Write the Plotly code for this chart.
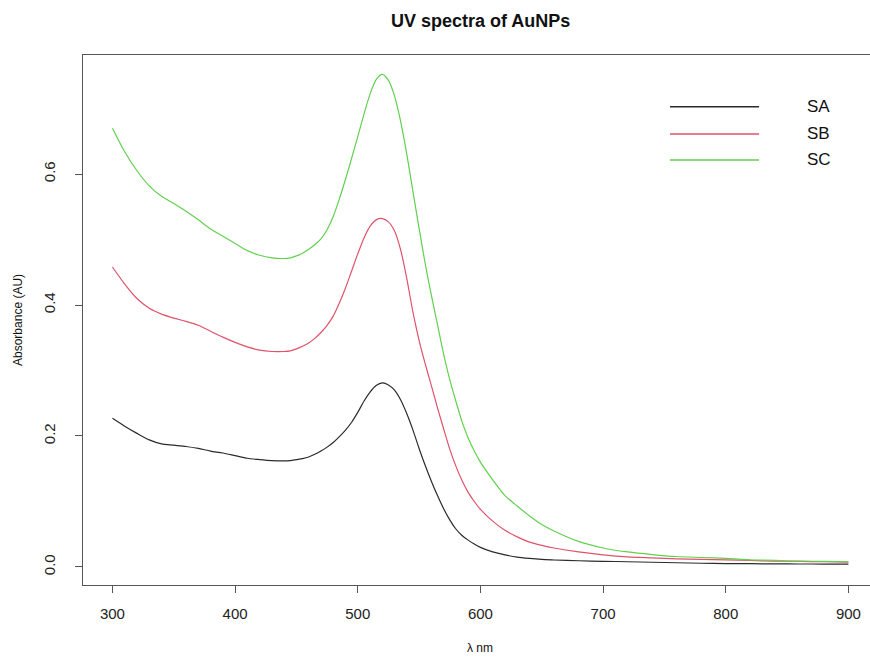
import plotly.graph_objects as go

# ---- data ----
wavelength = [300, 310, 320, 330, 340, 350, 360, 370, 380, 390, 400, 410, 420, 430,
              440, 445, 450, 455, 460, 465, 470, 475, 480, 485, 490, 495, 500, 505,
              510, 515, 520, 525, 530, 535, 540, 545, 550, 555, 560, 565, 570, 575,
              580, 585, 590, 595, 600, 610, 620, 630, 640, 650, 660, 680, 700, 720,
              740, 760, 780, 800, 820, 840, 860, 880, 900]

sa = [0.227, 0.215, 0.204, 0.194, 0.188, 0.186, 0.184, 0.181, 0.177, 0.174, 0.170, 0.166,
      0.164, 0.1625,
      0.162, 0.1625, 0.164, 0.1655, 0.168, 0.172, 0.177, 0.183, 0.190, 0.199, 0.209, 0.221,
      0.236, 0.253, 0.267, 0.277, 0.281, 0.278, 0.270, 0.255, 0.234, 0.209, 0.181, 0.155,
      0.131, 0.109, 0.089, 0.072, 0.058, 0.048, 0.041, 0.035, 0.030,
      0.023, 0.0185, 0.015, 0.013, 0.0115, 0.0107, 0.0095, 0.0087, 0.008, 0.0072, 0.0065,
      0.0057, 0.0052, 0.005, 0.0048, 0.0046, 0.0045, 0.0044]

sb = [0.458, 0.432, 0.410, 0.395, 0.386, 0.380, 0.375, 0.369, 0.360, 0.351, 0.343, 0.336,
      0.331, 0.329,
      0.329, 0.330, 0.333, 0.337, 0.342, 0.349, 0.358, 0.369, 0.383, 0.403, 0.426, 0.452,
      0.478, 0.502, 0.520, 0.530, 0.532, 0.527, 0.513, 0.484, 0.440, 0.389, 0.346, 0.310,
      0.277, 0.243, 0.211, 0.180, 0.154, 0.132, 0.114, 0.100, 0.088,
      0.070, 0.056, 0.046, 0.038, 0.033, 0.029, 0.023, 0.0185, 0.0155, 0.014, 0.0125,
      0.0117, 0.011, 0.010, 0.009, 0.0085, 0.008, 0.0075]

sc = [0.670, 0.634, 0.605, 0.582, 0.566, 0.555, 0.543, 0.530, 0.516, 0.505, 0.494, 0.483,
      0.476, 0.472,
      0.471, 0.472, 0.475, 0.479, 0.485, 0.492, 0.501, 0.515, 0.535, 0.562, 0.592, 0.624,
      0.657, 0.691, 0.722, 0.744, 0.752, 0.743, 0.719, 0.680, 0.630, 0.573, 0.517, 0.463,
      0.415, 0.370, 0.325, 0.286, 0.253, 0.222, 0.197, 0.177, 0.160,
      0.133, 0.109, 0.093, 0.078, 0.065, 0.055, 0.039, 0.029, 0.023, 0.019, 0.016,
      0.0145, 0.013, 0.011, 0.010, 0.009, 0.0085, 0.008]

series_names = ["SA", "SB", "SC"]
series_values = [sa, sb, sc]
series_colors = ["#2b2b2b", "#DF536B", "#61D04F"]

x_ticks = [300, 400, 500, 600, 700, 800, 900]
y_ticks = [0.0, 0.2, 0.4, 0.6]
y_ticklabels = ["0.0", "0.2", "0.4", "0.6"]

FONT = "Liberation Sans, Arial, Helvetica, sans-serif"

fig = go.Figure()
for name, vals, col in zip(series_names, series_values, series_colors):
    fig.add_trace(go.Scatter(x=wavelength, y=vals, mode="lines", name=name,
                             line=dict(color=col, width=1.2, shape="spline", smoothing=0.7),
                             showlegend=False))

# manual R-style legend (long line samples, no box)
leg_y = [0.9025, 0.851, 0.802]
for name, col, yy in zip(series_names, series_colors, leg_y):
    fig.add_shape(type="line", xref="paper", yref="paper", x0=0.7459, x1=0.859,
                  y0=yy, y1=yy, line=dict(color=col, width=1.6))
    fig.add_annotation(xref="paper", yref="paper", x=0.9174, y=yy, text=name,
                       showarrow=False, xanchor="left", yanchor="middle",
                       font=dict(family=FONT, size=17, color="#111"))

# title and axis titles
fig.add_annotation(xref="x", yref="paper", x=600, y=1.064, text="<b>UV spectra of AuNPs</b>",
                   showarrow=False, xanchor="center", yanchor="middle",
                   font=dict(family=FONT, size=18, color="#111"))
fig.add_annotation(xref="x", yref="paper", x=600, y=-0.119, text="λ nm",
                   showarrow=False, xanchor="center", yanchor="middle",
                   font=dict(family=FONT, size=12, color="#111"))
fig.add_annotation(xref="paper", yref="paper", x=-0.0826, y=0.5, text="Absorbance (AU)",
                   textangle=-90, showarrow=False, xanchor="center", yanchor="middle",
                   font=dict(family=FONT, size=12, color="#111"))

fig.update_layout(
    width=870, height=657,
    margin=dict(l=83, r=0, t=55, b=72, pad=0),
    paper_bgcolor="white", plot_bgcolor="white",
    font=dict(family=FONT, color="#222"),
    xaxis=dict(range=[276, 917.6], tickvals=x_ticks, ticks="outside", ticklen=7,
               tickcolor="#555", tickwidth=1, showline=True, linecolor="#555", linewidth=1.2,
               mirror=True, showgrid=False, zeroline=False,
               tickfont=dict(family=FONT, size=15, color="#222"), ticklabelstandoff=8),
    yaxis=dict(range=[-0.0275, 0.7817], tickvals=y_ticks, ticktext=y_ticklabels,
               tickangle=-90, ticks="outside", ticklen=7, tickcolor="#555", tickwidth=1,
               showline=True, linecolor="#555", linewidth=1.2, mirror=False,
               showgrid=False, zeroline=False,
               tickfont=dict(family=FONT, size=15, color="#222"), ticklabelstandoff=14),
)

fig.write_html("out.html",
               config={"displayModeBar": False},
               post_script="document.body.style.margin='0';document.body.style.overflow='hidden';")
